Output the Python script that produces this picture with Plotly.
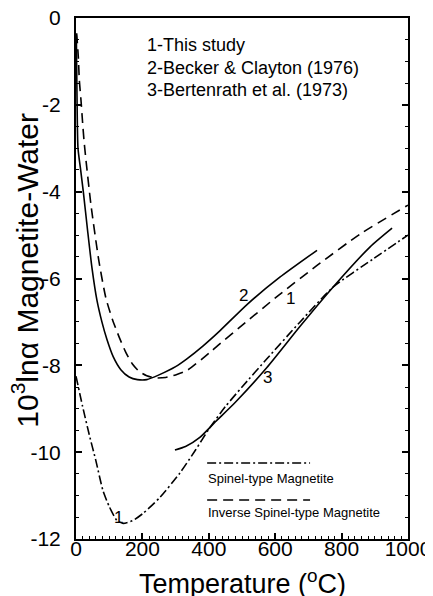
import plotly.graph_objects as go

# ---- data ----
# Curve 1, inverse spinel-type magnetite (dashed)
inv_T = [2, 7, 10, 15, 20, 24, 29, 45, 69, 90, 110, 130, 150, 170, 190, 213, 240, 270, 300, 334, 404, 434, 500, 608, 726, 855, 1000]
inv_Y = [-0.35, -0.9, -1.43, -1.89, -2.42, -2.81, -3.2, -4.3, -5.6, -6.45, -6.95, -7.35, -7.7, -7.97, -8.14, -8.24, -8.29, -8.28, -8.22, -8.12, -7.7, -7.5, -7.08, -6.4, -5.7, -4.98, -4.31]

# Curve 2, Becker & Clayton (1976) (solid)
bc_T = [1, 3, 6, 14, 22, 35, 48, 63, 78, 93, 112, 135, 160, 185, 213, 250, 300, 334, 383, 434, 515, 614, 726]
bc_Y = [-0.4, -1.8, -3.0, -3.5, -4.0, -4.9, -5.75, -6.5, -7.0, -7.4, -7.8, -8.1, -8.27, -8.33, -8.33, -8.22, -8.03, -7.85, -7.55, -7.2, -6.6, -5.97, -5.35]

# Curve 1, spinel-type magnetite (dash-dot)
sp_T = [0, 20, 40, 60, 81, 100, 123, 142, 170, 202, 253, 313, 360, 400, 450, 500, 575, 675, 774, 895, 1000]
sp_Y = [-8.25, -8.95, -9.6, -10.2, -10.88, -11.25, -11.57, -11.64, -11.58, -11.41, -11.04, -10.48, -9.95, -9.47, -8.95, -8.5, -7.85, -7.0, -6.2, -5.55, -5.0]

# Curve 3, Bertenrath et al. (1973) (solid)
be_T = [298, 330, 373, 420, 480, 575, 675, 774, 886, 952]
be_Y = [-9.95, -9.87, -9.66, -9.3, -8.85, -8.05, -7.1, -6.2, -5.27, -4.84]

x_ticks = [0, 200, 400, 600, 800, 1000]
x_ticktext = ["0", "200", "400", "600", "800", "1000"]
y_ticks = [0, -2, -4, -6, -8, -10, -12]
y_ticktext = ["0", "-2", "-4", "-6", "-8", "-10", "-12"]

refs = ["1-This study", "2-Becker & Clayton (1976)", "3-Bertenrath et al. (1973)"]
legend_names = ["Spinel-type Magnetite", "Inverse Spinel-type Magnetite"]

FONT = "Liberation Sans, Arial, Helvetica, sans-serif"
LW = 1.6
DASH = "10px,6px"
DASHDOT = "9px,3px,2px,3px"

fig = go.Figure()
fig.add_trace(go.Scatter(x=inv_T, y=inv_Y, mode="lines", line=dict(color="black", width=LW, dash=DASH, shape="spline", smoothing=0.6)))
fig.add_trace(go.Scatter(x=bc_T, y=bc_Y, mode="lines", line=dict(color="black", width=LW, shape="spline", smoothing=0.6)))
fig.add_trace(go.Scatter(x=sp_T, y=sp_Y, mode="lines", line=dict(color="black", width=LW, dash=DASHDOT, shape="spline", smoothing=0.6)))
fig.add_trace(go.Scatter(x=be_T, y=be_Y, mode="lines", line=dict(color="black", width=LW, shape="spline", smoothing=0.6)))

annotations = []
for i, t in enumerate(refs):
    annotations.append(dict(x=208, y=-0.62 - 0.52 * i, xref="x", yref="y", text=t, showarrow=False,
                            xanchor="left", yanchor="middle", font=dict(size=18, family=FONT, color="black")))
for txt, lx, ly in [("2", 503, -6.4), ("1", 645, -6.45), ("3", 578, -8.27), ("1", 127, -11.5)]:
    annotations.append(dict(x=lx, y=ly, xref="x", yref="y", text=txt, showarrow=False,
                            font=dict(size=17, family=FONT, color="black")))
annotations.append(dict(x=0.393, y=0.117, xref="paper", yref="paper", text=legend_names[0], showarrow=False,
                        xanchor="left", yanchor="middle", font=dict(size=13, family=FONT, color="black")))
annotations.append(dict(x=0.393, y=0.05, xref="paper", yref="paper", text=legend_names[1], showarrow=False,
                        xanchor="left", yanchor="middle", font=dict(size=13, family=FONT, color="black")))
annotations.append(dict(x=0.503, y=-0.082, xref="paper", yref="paper", text="Temperature (<sup>o</sup>C)", showarrow=False,
                        xanchor="center", yanchor="middle", font=dict(size=27, family=FONT, color="black")))
annotations.append(dict(x=-0.152, y=0.516, xref="paper", yref="paper", text="10<sup>3</sup>ln\u03b1 Magnetite-Water", showarrow=False,
                        textangle=-90, xanchor="center", yanchor="middle", font=dict(size=30, family=FONT, color="black")))

shapes = [
    dict(type="line", xref="paper", yref="paper", x0=0.395, x1=0.705, y0=0.146, y1=0.146,
         line=dict(color="black", width=LW, dash=DASHDOT)),
    dict(type="line", xref="paper", yref="paper", x0=0.395, x1=0.705, y0=0.075, y1=0.075,
         line=dict(color="black", width=LW, dash=DASH)),
]

# page body has an 8px margin: figure sized/offset so the plot area lands where the reference has it
fig.update_layout(
    width=425, height=588,
    margin=dict(l=68, r=25, t=10, b=57),
    paper_bgcolor="white", plot_bgcolor="white",
    showlegend=False,
    annotations=annotations, shapes=shapes,
    font=dict(family=FONT, color="black"),
    # unlabeled overlay axes: longer ticks every 100 degC and every 1 unit
    xaxis2=dict(overlaying="x", matches="x", side="bottom", anchor="y", tickmode="linear", tick0=0, dtick=100,
                ticks="inside", ticklen=6, tickwidth=1.5, tickcolor="black", showticklabels=False,
                showgrid=False, zeroline=False, showline=False, automargin=False),
    yaxis2=dict(overlaying="y", matches="y", side="left", anchor="x", tickmode="linear", tick0=0, dtick=1,
                ticks="inside", ticklen=6, tickwidth=1.5, tickcolor="black", showticklabels=False, mirror="ticks",
                showgrid=False, zeroline=False, showline=False, automargin=False),
)
fig.layout.xaxis.update(range=[0, 1000], tickvals=x_ticks, ticktext=x_ticktext, ticks="inside", ticklen=6, tickwidth=1.5,
                        automargin=False, tickcolor="black", showline=True, linecolor="black", linewidth=2, mirror=True,
                        showgrid=False, zeroline=False, tickfont=dict(size=21, family=FONT, color="black"),
                        ticklabelstandoff=-10, ticklabeloverflow="allow",
                        minor=dict(dtick=20, ticks="inside", ticklen=3, tickcolor="black", tickwidth=1.2, showgrid=False))
fig.layout.yaxis.update(range=[-12, 0], tickvals=y_ticks, ticktext=y_ticktext, ticks="inside", ticklen=6, tickwidth=1.5,
                        automargin=False, tickcolor="black", showline=True, linecolor="black", linewidth=2, mirror="ticks",
                        showgrid=False, zeroline=False, tickfont=dict(size=21, family=FONT, color="black"),
                        ticklabelstandoff=9, ticklabeloverflow="allow",
                        minor=dict(dtick=0.5, ticks="inside", ticklen=3, tickcolor="black", tickwidth=1.2, showgrid=False))

fig.write_html("out.html")
